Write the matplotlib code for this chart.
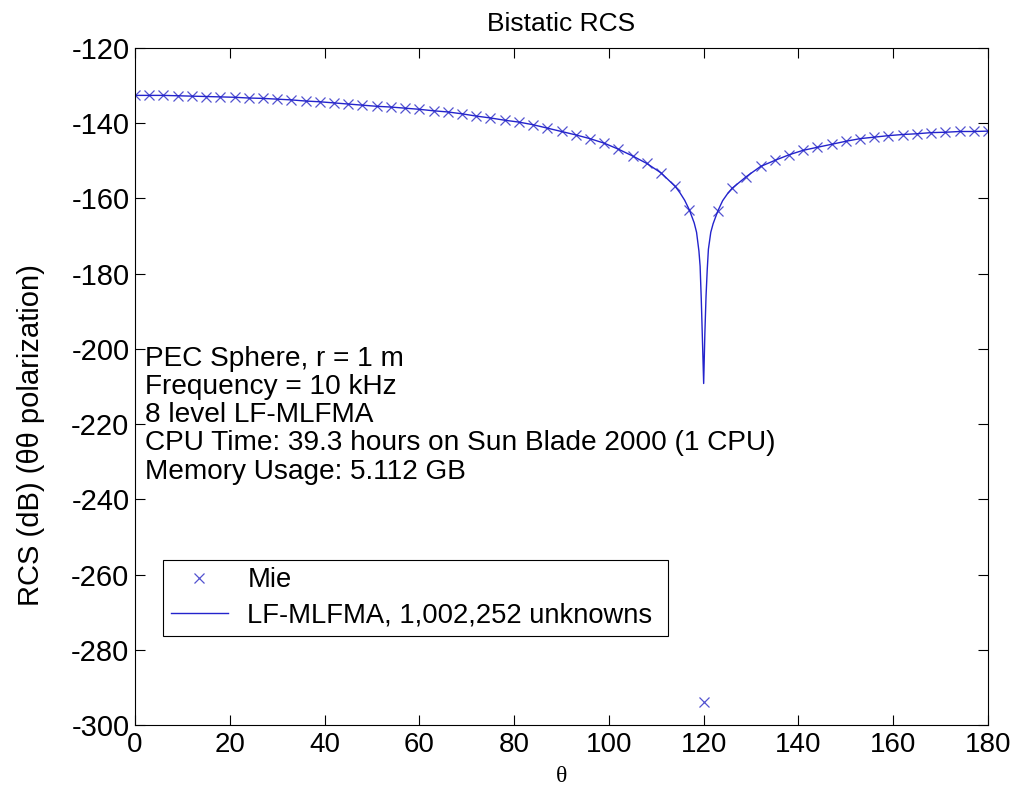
import numpy as np
import matplotlib
matplotlib.use("Agg")
import matplotlib.pyplot as plt

# ---------------- data ----------------
mie_theta = np.arange(0, 181, 3)
mie_rcs = [
    -132.6, -132.6, -132.6, -132.7, -132.8, -132.9, -133.0, -133.1, -133.3, -133.4,
    -133.6, -133.8, -134.1, -134.3, -134.6, -134.9, -135.2, -135.5, -135.7, -136.0,
    -136.3, -136.7, -137.0, -137.5, -138.1, -138.6, -139.2, -139.7, -140.4, -141.3,
    -142.2, -143.1, -144.1, -145.3, -146.9, -148.7, -150.7, -153.2, -156.8, -163.1,
    -294.0,
    -163.3, -157.3, -154.2, -151.5, -149.9, -148.4, -147.2, -146.4, -145.6, -144.8,
    -144.1, -143.7, -143.3, -143.0, -142.8, -142.5, -142.4, -142.2, -142.2, -142.1,
]

mlfma_theta = [
    0, 3, 6, 9, 12, 15, 18, 21, 24, 27, 30, 33, 36, 39, 42, 45, 48, 51, 54, 57,
    60, 63, 66, 69, 72, 75, 78, 81, 84, 87, 90, 93, 96, 99, 102, 105, 108, 111, 114,
    115, 116, 117, 118, 118.5, 119, 119.25, 119.5, 119.75, 120, 120.25, 120.5, 120.75,
    121, 121.5, 122, 123, 124, 125, 126,
    129, 132, 135, 138, 141, 144, 147, 150, 153, 156, 159, 162, 165, 168, 171, 174, 177, 180,
]
mlfma_rcs = [
    -132.6, -132.6, -132.6, -132.7, -132.8, -132.9, -133.0, -133.1, -133.3, -133.4,
    -133.6, -133.8, -134.1, -134.3, -134.6, -134.9, -135.2, -135.5, -135.7, -136.0,
    -136.3, -136.7, -137.0, -137.5, -138.1, -138.6, -139.2, -139.7, -140.4, -141.3,
    -142.2, -143.1, -144.1, -145.3, -146.9, -148.7, -150.7, -153.2, -156.8,
    -158.5, -160.5, -163.1, -166.5, -169.0, -174.0, -178.0, -187.0, -198.0, -209.2,
    -196.0, -186.0, -179.0,
    -173.5, -169.0, -166.7, -163.3, -160.6, -158.8, -157.3,
    -154.2, -151.5, -149.9, -148.4, -147.2, -146.4, -145.6, -144.8, -144.1, -143.7,
    -143.3, -143.0, -142.8, -142.5, -142.4, -142.2, -142.2, -142.1,
]

info_lines = [
    "PEC Sphere, r = 1 m",
    "Frequency = 10 kHz",
    "8 level LF-MLFMA",
    "CPU Time: 39.3 hours on Sun Blade 2000 (1 CPU)",
    "Memory Usage: 5.112 GB",
]
x_ticks = [0, 20, 40, 60, 80, 100, 120, 140, 160, 180]
y_ticks = [-300, -280, -260, -240, -220, -200, -180, -160, -140, -120]

# ---------------- plot ----------------
plt.rcParams['font.family'] = ['Liberation Sans', 'DejaVu Sans']
plt.rcParams['axes.unicode_minus'] = False

W, H = 1015, 795
fig = plt.figure(figsize=(W / 100, H / 100), dpi=100)
L, R, T, B = 135, 988, 48, 725
ax = fig.add_axes([L / W, 1 - B / H, (R - L) / W, (B - T) / H])

ax.plot(mie_theta, mie_rcs, linestyle='none', marker='x', markersize=6.5,
        markeredgewidth=0.9, color='#5252d0', label='Mie')
ax.plot(mlfma_theta, mlfma_rcs, '-', color='#2323cc', linewidth=1.0,
        label='LF-MLFMA, 1,002,252 unknowns ')

ax.set_xlim(0, 180)
ax.set_ylim(-300, -120)
ax.set_xticks(x_ticks)
ax.set_yticks(y_ticks)
ax.tick_params(direction='in', length=7, width=0.8, top=True, right=True,
               labelsize=21, pad=4)
ax.tick_params(axis='x', labelsize=20, pad=5)
for s in ax.spines.values():
    s.set_linewidth(0.8)

ax.set_title('Bistatic RCS', fontsize=19, pad=12)
ax.set_xlabel('θ', fontsize=17, family=['Liberation Serif', 'DejaVu Serif'], labelpad=6)
ax.set_ylabel('RCS (dB) (θθ polarization)', fontsize=21)
ax.yaxis.set_label_coords(-0.106, 0.428)

y0 = -202.6
dy = 7.5
for i, line in enumerate(info_lines):
    ax.text(2.2, y0 - i * dy, line, fontsize=20.2, va='center', ha='left')

leg = ax.legend(loc='lower left', bbox_to_anchor=(0.0328, 0.1315),
                borderaxespad=0, fontsize=19.7, frameon=True, fancybox=False,
                edgecolor='black', framealpha=1, handlelength=2.1,
                handletextpad=0.7, borderpad=0.28, labelspacing=0.33)
leg.get_frame().set_linewidth(0.8)

fig.savefig('out.png', dpi=100)
